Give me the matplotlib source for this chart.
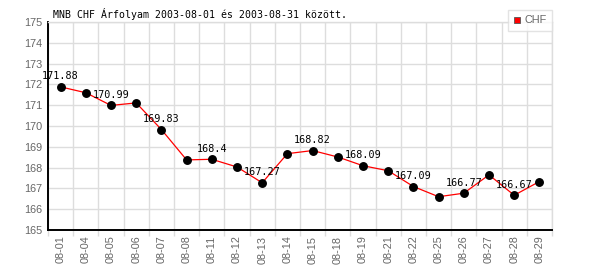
import matplotlib
matplotlib.use('Agg')
import numpy as np
import matplotlib.pyplot as plt
from matplotlib.lines import Line2D

dates = ['08-01', '08-04', '08-05', '08-06', '08-07', '08-08', '08-11', '08-12',
         '08-13', '08-14', '08-15', '08-18', '08-19', '08-21', '08-22', '08-25',
         '08-26', '08-27', '08-28', '08-29']
chf = [171.88, 171.60, 170.99, 171.11, 169.83, 168.37, 168.40, 168.03,
       167.27, 168.67, 168.82, 168.51, 168.09, 167.85, 167.09, 166.60,
       166.77, 167.65, 166.67, 167.33]
title = 'MNB CHF Árfolyam 2003-08-01 és 2003-08-31 között.'

grid_col = '#dddddd'
tick_col = '#666666'

fig = plt.figure(figsize=(6, 2.7), dpi=100)
ax = fig.add_axes([48 / 600, 1 - 230 / 270, 504 / 600, 208 / 270])

x = np.arange(len(chf)) + 0.5
ax.plot(x, chf, color='red', lw=0.9, zorder=3)
ax.plot(x, chf, 'o', color='black', ms=5.4, zorder=4)

# every second point gets its value written above it
for i in range(0, len(chf), 2):
    ax.text(x[i], chf[i] + 0.26, f'{chf[i]:g}', ha='center', va='bottom',
            family='DejaVu Sans Mono', fontsize=7.3, color='black', zorder=5)

ax.set_xlim(0, len(chf))
ax.set_ylim(165, 175)
ax.set_yticks(range(165, 176))
ax.set_xticks(x)
ax.set_xticklabels(dates, rotation=90)
ax.set_xticks(np.arange(0, len(chf) + 1), minor=True)
ax.grid(True, which='minor', axis='x', color=grid_col, lw=1)
ax.grid(True, which='major', axis='y', color=grid_col, lw=1)
ax.set_axisbelow(True)

for lab in ax.get_xticklabels() + ax.get_yticklabels():
    lab.set_family('Liberation Sans')
    lab.set_fontsize(7.8)
    lab.set_color(tick_col)
ax.tick_params(axis='both', which='major', length=0, pad=4)
ax.tick_params(axis='x', which='minor', length=4, color=grid_col, width=1)

for s in ['top', 'right']:
    ax.spines[s].set_color(grid_col)
    ax.spines[s].set_linewidth(1)
for s in ['left', 'bottom']:
    ax.spines[s].set_color('black')
    ax.spines[s].set_linewidth(1.4)

fig.text(53 / 600, 1 - 14 / 270, title, ha='left', va='center',
         family='DejaVu Sans Mono', fontsize=7.1, color='black')

handle = Line2D([], [], ls='none', marker='s', ms=5, markerfacecolor='red',
                markeredgecolor='#555555', markeredgewidth=0.6)
leg = fig.legend([handle], ['CHF'], loc='upper right',
                 bbox_to_anchor=(552 / 600, 1 - 10 / 270),
                 prop={'family': 'Liberation Sans', 'size': 7.8},
                 frameon=True, fancybox=False, borderpad=0.5,
                 handlelength=0.7, handletextpad=0.3, borderaxespad=0)
leg.get_frame().set_edgecolor(grid_col)
leg.get_frame().set_linewidth(1)
for t in leg.get_texts():
    t.set_color(tick_col)

fig.savefig('out.png', dpi=100)
